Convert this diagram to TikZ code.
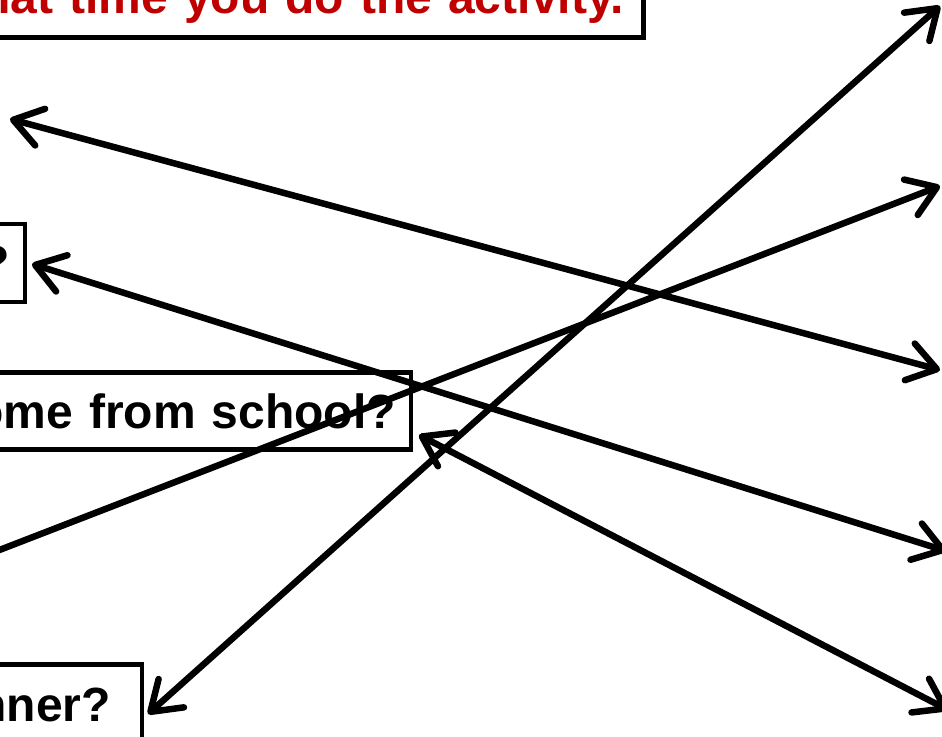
\documentclass[tikz,border=0pt]{standalone}
\usepackage{fontspec}
\setmainfont{Liberation Sans}
\usepackage{xcolor}
\usetikzlibrary{arrows.meta}
\definecolor{titlered}{HTML}{C00000}
\newcommand{\qsize}{\fontsize{48}{56}\selectfont\bfseries}

\begin{document}
\begin{tikzpicture}[
  x=1pt, y=-1pt,
  qbox/.style={rectangle, draw, line width=4.5pt, fill=white, text width=800pt, align=right, font=\qsize, inner xsep=15pt},
  link/.style={{Straight Barb[length=28pt,width=38pt,round]}-{Straight Barb[length=28pt,width=38pt,round]}, line width=6.5pt, line cap=round}
]
  \useasboundingbox (0,0) rectangle (942,736);
  \clip (0,0) rectangle (942,736);

  % Question boxes
  \node[qbox, text=titlered, line width=5pt, anchor=south east, inner xsep=20pt, inner ysep=14pt] (title) at (646,40) {hat time you do the activity.};
  \node[qbox, anchor=east, minimum height=78pt] (q2) at (27,263) {?};
  \node[qbox, anchor=east, minimum height=77pt] (q3) at (413,411) {ome from school?};
  \node[qbox, anchor=north east, minimum height=82pt, inner xsep=31pt] (q4) at (144,662) {nner?};

  % Free ends of the links
  \coordinate (l1) at (10,119);
  \coordinate (r1) at (940,370);
  \coordinate (l2) at (32,264);
  \coordinate (r2) at (946,551);
  \coordinate (l3) at (-60,573);
  \coordinate (r3) at (940,186);
  \coordinate (l4) at (148,714);
  \coordinate (r4) at (940,6);
  \coordinate (l5) at (419,435);
  \coordinate (r5) at (948,710);

  % Links
  \draw[link] (l1) -- (r1);
  \draw[link] (l2) -- (r2);
  \draw[link] (l3) -- (r3);
  \draw[link] (l4) -- (r4);
  \draw[link] (l5) -- (r5);
\end{tikzpicture}
\end{document}
